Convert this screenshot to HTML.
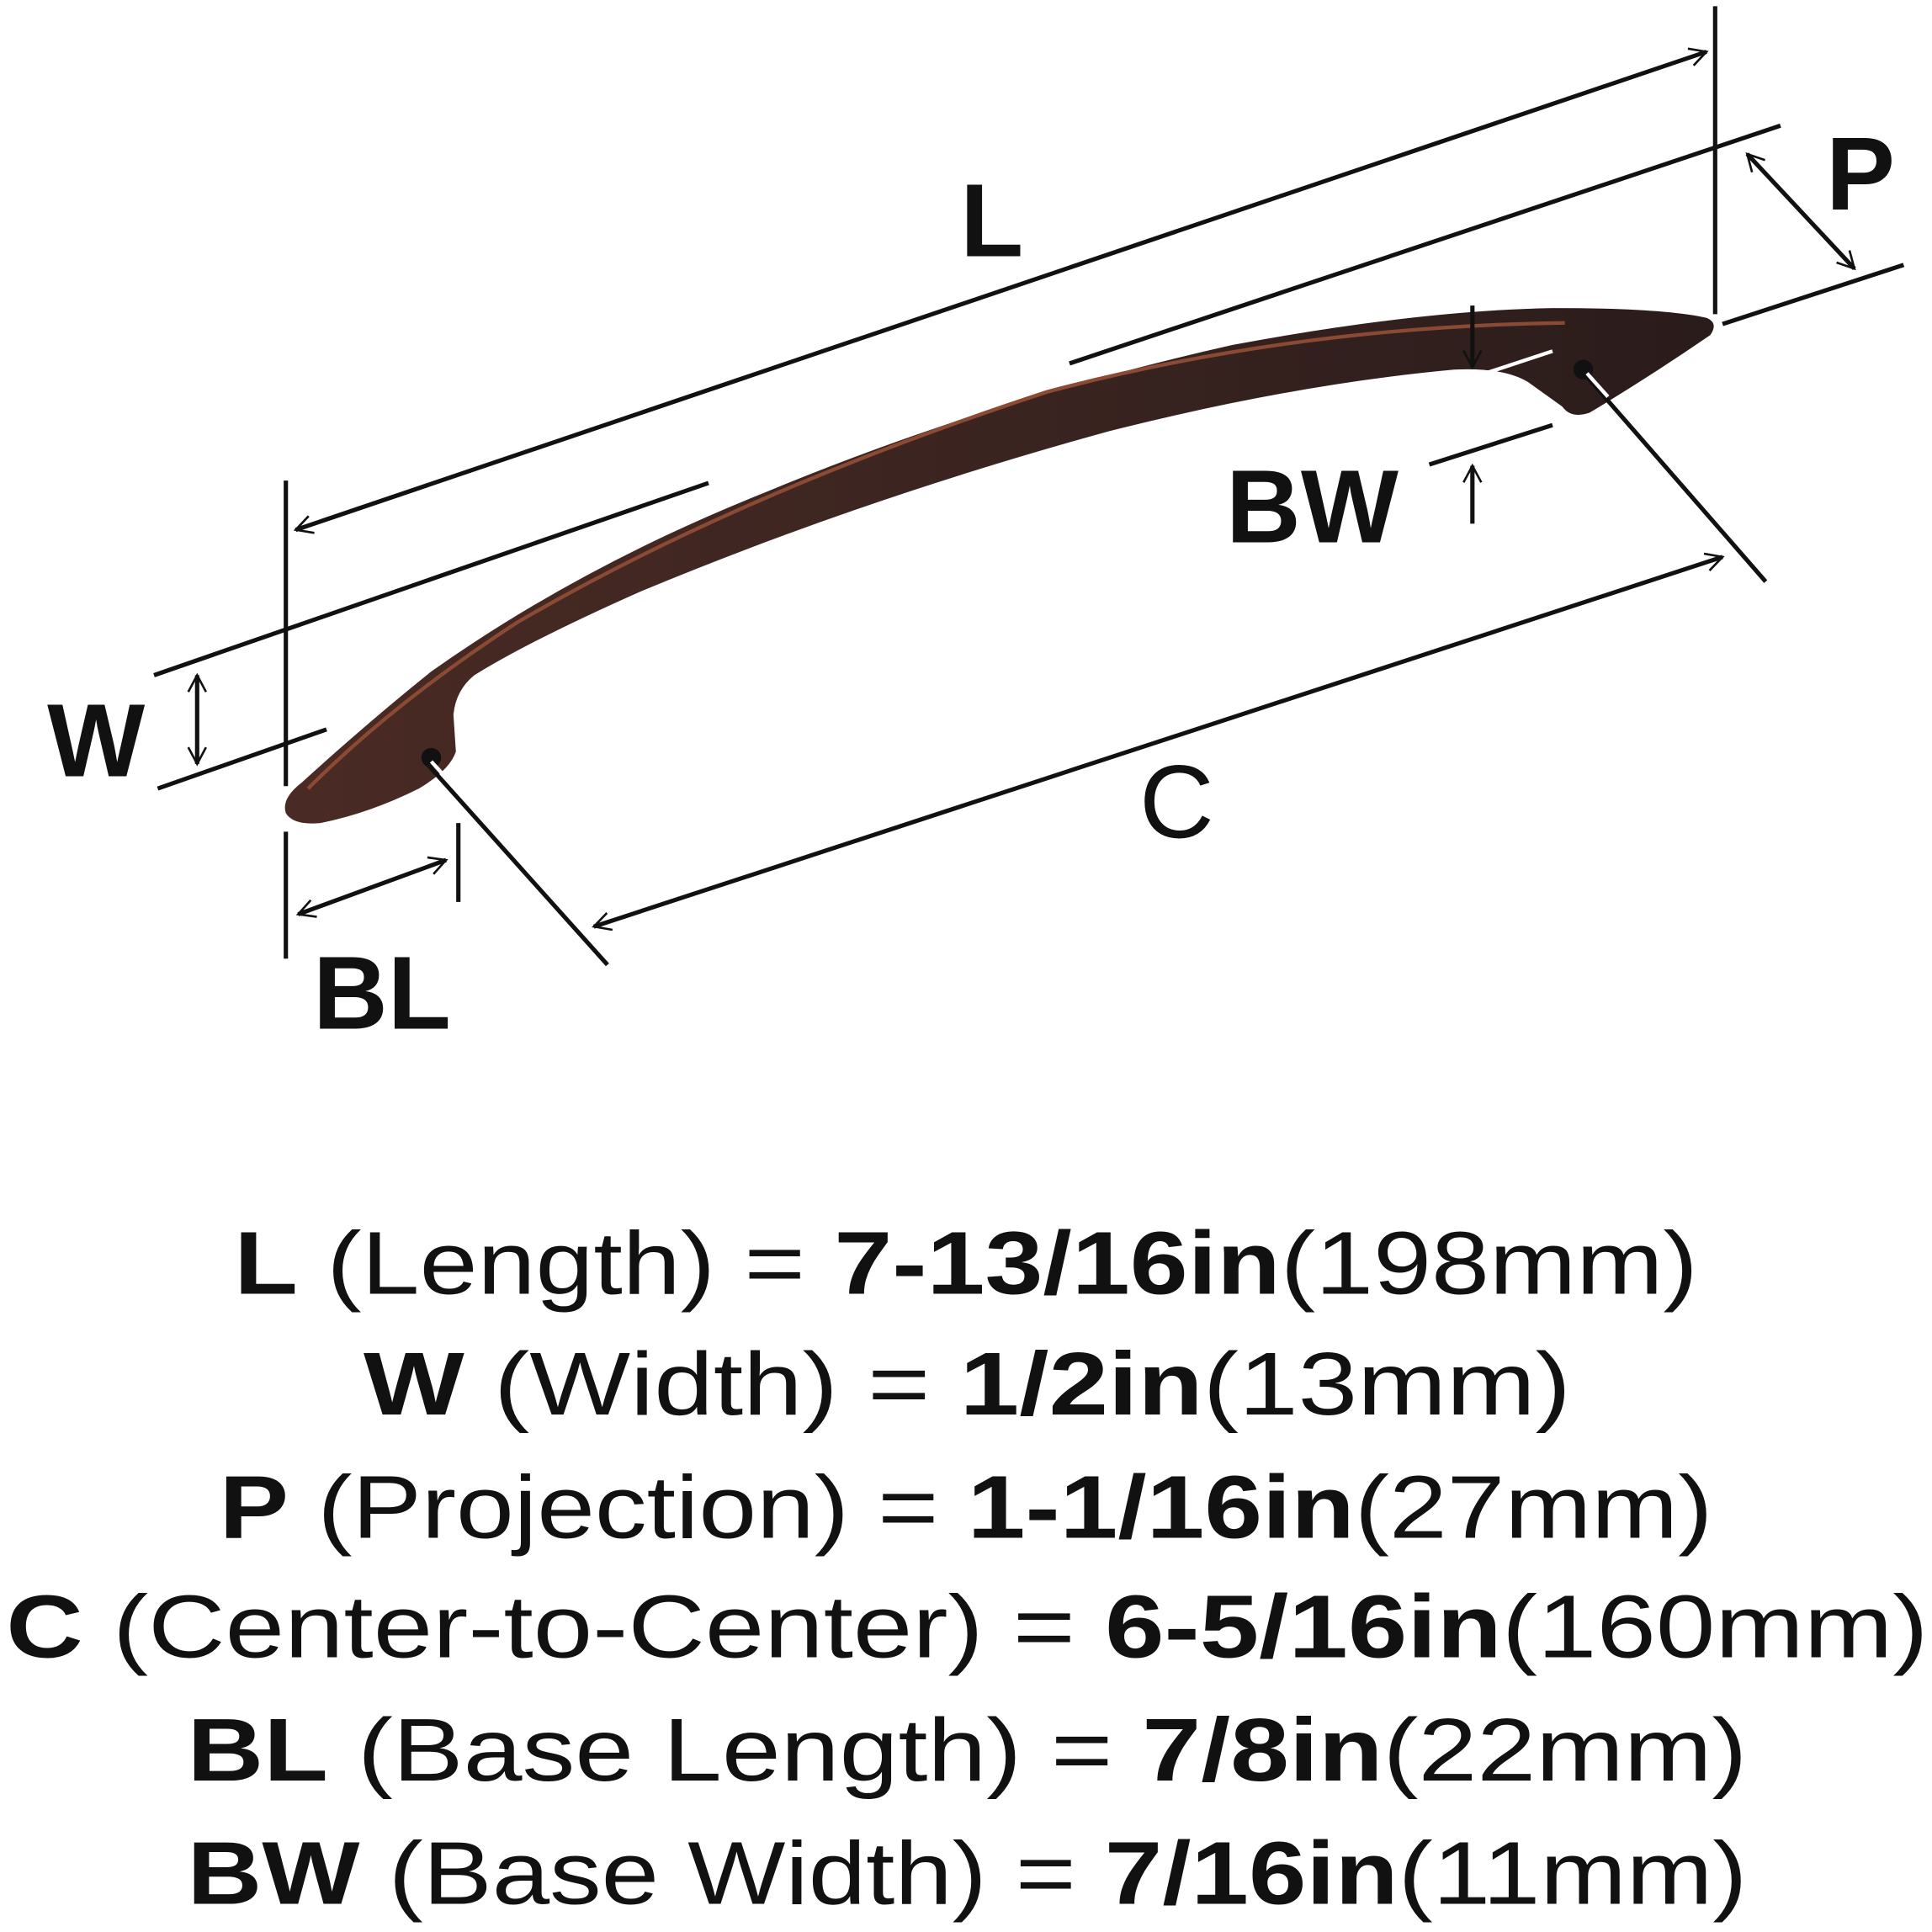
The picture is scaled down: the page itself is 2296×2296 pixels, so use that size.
<!DOCTYPE html>
<html><head><meta charset="utf-8"><style>
html,body{margin:0;padding:0;background:#fff;}
svg{display:block;}
text{font-family:"Liberation Sans",sans-serif;fill:#111;}
</style></head><body>
<svg width="2296" height="2296" viewBox="0 0 1568 1568" xmlns="http://www.w3.org/2000/svg">
<defs>
<marker id="a" viewBox="0 0 20 20" refX="18" refY="10" markerWidth="18" markerHeight="18" orient="auto-start-reverse" markerUnits="userSpaceOnUse">
<path d="M3 2 L18 10 L3 18" fill="none" stroke="#111" stroke-width="2"/>
</marker>
<linearGradient id="g" x1="0" y1="0" x2="1" y2="0">
<stop offset="0" stop-color="#4a2a24"/><stop offset="0.5" stop-color="#3a2420"/><stop offset="1" stop-color="#2a1c1b"/>
</linearGradient>
</defs>
<!-- handle -->
<path d="M232 660 Q228 648 245 635 Q300 585 350 545 Q470 460 620 400 Q800 325 1000 280 Q1150 252 1260 250 Q1350 250 1385 258 Q1395 262 1388 272 Q1340 305 1290 335 Q1275 340 1268 330 L1240 310 Q1220 298 1180 300 Q1050 312 900 350 Q700 405 520 480 Q430 520 385 548 Q370 560 368 580 L370 610 Q365 625 340 640 Q300 660 260 668 Q238 670 232 660 Z" fill="url(#g)"/>
<path d="M250 640 Q320 570 420 505 Q600 400 850 318 Q1050 265 1270 262" fill="none" stroke="#8a4a33" stroke-width="3"/>
<circle cx="350" cy="615" r="8" fill="#111"/>
<circle cx="1285" cy="300" r="8" fill="#111"/>
<g stroke="#111" stroke-width="3.5" fill="none">
<line x1="240" y1="430" x2="1385" y2="42" marker-start="url(#a)" marker-end="url(#a)"/>
<line x1="232" y1="390" x2="232" y2="638"/>
<line x1="1392" y1="5" x2="1392" y2="255"/>
<line x1="868" y1="295" x2="1445" y2="102"/>
<line x1="1398" y1="263" x2="1545" y2="215"/>
<line x1="1418" y1="125" x2="1505" y2="218" marker-start="url(#a)" marker-end="url(#a)"/>
<line x1="125" y1="548" x2="575" y2="392"/>
<line x1="128" y1="640" x2="265" y2="592"/>
<line x1="160" y1="548" x2="160" y2="620" marker-start="url(#a)" marker-end="url(#a)"/>
<line x1="1160" y1="377" x2="1260" y2="345"/>
<line x1="1195" y1="248" x2="1195" y2="298" marker-end="url(#a)"/>
<line x1="1195" y1="425" x2="1195" y2="378" marker-end="url(#a)"/>
<line x1="482" y1="752" x2="1398" y2="452" marker-start="url(#a)" marker-end="url(#a)"/>
<line x1="345" y1="618" x2="493" y2="783"/>
<line x1="1283" y1="300" x2="1433" y2="472"/>
<line x1="232" y1="675" x2="232" y2="778"/>
<line x1="372" y1="668" x2="372" y2="732"/>
<line x1="242" y1="742" x2="362" y2="698" marker-start="url(#a)" marker-end="url(#a)"/>
</g>
<line x1="1160" y1="318" x2="1260" y2="285" stroke="#fff" stroke-width="3"/>
<line x1="350" y1="618" x2="370" y2="640" stroke="#fff" stroke-width="3"/>
<line x1="1288" y1="303" x2="1305" y2="322" stroke="#fff" stroke-width="3"/>
<g font-weight="bold" font-size="84">
<text x="805" y="208" text-anchor="middle">L</text>
<text x="1510" y="170" text-anchor="middle">P</text>
<text x="78" y="630" text-anchor="middle">W</text>
<text x="1065" y="440" text-anchor="middle">BW</text>
<text x="955" y="680" text-anchor="middle" font-weight="normal">C</text>
<text x="310" y="835" text-anchor="middle">BL</text>
</g>
<g font-size="72">
<text x="190" y="1050" textLength="1188" lengthAdjust="spacingAndGlyphs"><tspan font-weight="bold">L</tspan> (Length) = <tspan font-weight="bold">7-13/16in</tspan>(198mm)</text>
<text x="295" y="1148" textLength="980" lengthAdjust="spacingAndGlyphs"><tspan font-weight="bold">W</tspan> (Width) = <tspan font-weight="bold">1/2in</tspan>(13mm)</text>
<text x="178" y="1248" textLength="1212" lengthAdjust="spacingAndGlyphs"><tspan font-weight="bold">P</tspan> (Projection) = <tspan font-weight="bold">1-1/16in</tspan>(27mm)</text>
<text x="5" y="1345" textLength="1560" lengthAdjust="spacingAndGlyphs"><tspan font-weight="bold">C</tspan> (Center-to-Center) = <tspan font-weight="bold">6-5/16in</tspan>(160mm)</text>
<text x="152" y="1445" textLength="1266" lengthAdjust="spacingAndGlyphs"><tspan font-weight="bold">BL</tspan> (Base Length) = <tspan font-weight="bold">7/8in</tspan>(22mm)</text>
<text x="152" y="1545" textLength="1266" lengthAdjust="spacingAndGlyphs"><tspan font-weight="bold">BW</tspan> (Base Width) = <tspan font-weight="bold">7/16in</tspan>(11mm)</text>
</g>
</svg>
</body></html>
